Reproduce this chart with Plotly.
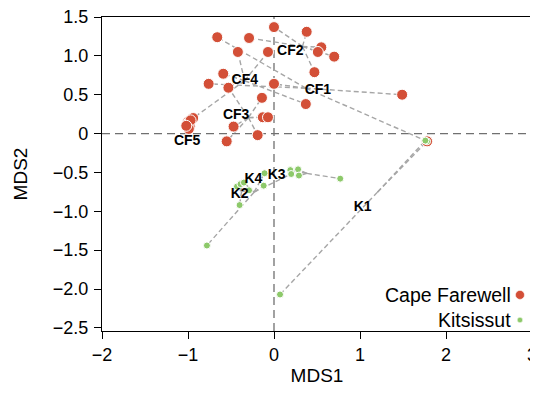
import plotly.graph_objects as go

# ---------------- data ----------------
cf_groups = ["CF1", "CF2", "CF3", "CF4", "CF5"]
cf_x = {
    "CF1": [-0.66, 1.49, 1.78, 0.00, -0.76],
    "CF2": [0.00, 0.38, 0.55, 0.51, 0.70, 0.47, -0.29],
    "CF3": [-0.53, -0.14, -0.13, -0.07, -0.47, -0.19, -0.55],
    "CF4": [-0.42, -0.07, -0.59, 0.37, -1.00],
    "CF5": [-0.94, -0.98, -1.01, -0.97, -0.99, -1.02],
}
cf_y = {
    "CF1": [1.24, 0.50, -0.10, 0.64, 0.64],
    "CF2": [1.37, 1.31, 1.11, 1.05, 0.99, 0.79, 1.23],
    "CF3": [0.59, 0.46, 0.21, 0.21, 0.09, -0.02, -0.10],
    "CF4": [1.05, 1.05, 0.77, 0.38, 0.15],
    "CF5": [0.20, 0.09, 0.12, 0.17, 0.06, 0.10],
}
cf_label_x = [0.51, 0.19, -0.44, -0.34, -1.01]
cf_label_y = [0.55, 1.05, 0.23, 0.68, -0.10]

k_groups = ["K1", "K2", "K3", "K4"]
k_x = {
    "K1": [1.78, 1.76, 0.07],
    "K2": [-0.40, -0.43, -0.39, -0.29],
    "K3": [0.19, 0.28, 0.29, 0.77],
    "K4": [-0.78, -0.35, -0.11, -0.12, 0.20],
}
k_y = {
    "K1": [-0.10, -0.09, -2.07],
    "K2": [-0.92, -0.68, -0.65, -0.73],
    "K3": [-0.47, -0.46, -0.54, -0.58],
    "K4": [-1.44, -0.63, -0.51, -0.67, -0.52],
}
k_label_x = [1.03, -0.40, 0.03, -0.24]
k_label_y = [-0.945, -0.78, -0.54, -0.585]

x_ticks = [-2, -1, 0, 1, 2, 3]
x_ticktext = ["\u22122", "\u22121", "0", "1", "2", "3"]
y_ticks = [1.5, 1.0, 0.5, 0, -0.5, -1.0, -1.5, -2.0, -2.5]
y_ticktext = ["1.5", "1.0", "0.5", "0", "\u22120.5", "\u22121.0", "\u22121.5", "\u22122.0", "\u22122.5"]

series_names = ["Cape Farewell", "Kitsissut"]

RED = "#D34F37"
GREEN = "#8DC96A"
FONT = "Liberation Sans, Arial, Helvetica, sans-serif"

fig = go.Figure()


def spider(xs, ys):
    cx = sum(xs) / len(xs)
    cy = sum(ys) / len(ys)
    lx, ly = [], []
    for x, y in zip(xs, ys):
        lx += [cx, x, None]
        ly += [cy, y, None]
    return lx, ly


# spider lines
for groups, gx, gy in ((cf_groups, cf_x, cf_y), (k_groups, k_x, k_y)):
    for g in groups:
        lx, ly = spider(gx[g], gy[g])
        fig.add_trace(go.Scatter(x=lx, y=ly, mode="lines", hoverinfo="skip",
                                 line=dict(color="#A6A6A6", width=1.4, dash="5px,3px"),
                                 showlegend=False))

# points
all_cf_x = [v for g in cf_groups for v in cf_x[g]]
all_cf_y = [v for g in cf_groups for v in cf_y[g]]
all_k_x = [v for g in k_groups for v in k_x[g]]
all_k_y = [v for g in k_groups for v in k_y[g]]

fig.add_trace(go.Scatter(x=all_cf_x, y=all_cf_y, mode="markers", name=series_names[0],
                         marker=dict(color=RED, size=11, line=dict(color="white", width=1)),
                         showlegend=False))
fig.add_trace(go.Scatter(x=all_k_x, y=all_k_y, mode="markers", name=series_names[1],
                         marker=dict(color=GREEN, size=7, line=dict(color="white", width=1)),
                         showlegend=False))

# group labels
fig.add_trace(go.Scatter(x=cf_label_x + k_label_x, y=cf_label_y + k_label_y,
                         text=cf_groups + k_groups, mode="text", hoverinfo="skip",
                         textfont=dict(family=FONT, size=14, color="black", weight="bold"),
                         showlegend=False))

# zero reference lines
fig.add_shape(type="line", xref="x", yref="paper", x0=0, x1=0, y0=0, y1=1,
              line=dict(color="#707070", width=1.3, dash="8px,5px"), layer="below")
fig.add_shape(type="line", xref="paper", yref="y", x0=0, x1=1, y0=0, y1=0,
              line=dict(color="#707070", width=1.3, dash="8px,5px"), layer="below")

# custom legend (marker on the right of text)
leg_y = [0.115, 0.035]
leg_colors = [RED, GREEN]
leg_sizes = [9, 5.5]
for name, yy, col, sz in zip(series_names, leg_y, leg_colors, leg_sizes):
    fig.add_annotation(xref="paper", yref="paper", x=0.956, y=yy, text=name,
                       xanchor="right", yanchor="middle", showarrow=False,
                       font=dict(family=FONT, size=19.5, color="black"))
    fig.add_shape(type="circle", xref="paper", yref="paper",
                  xsizemode="pixel", ysizemode="pixel", xanchor=0.972, yanchor=yy,
                  x0=-sz / 2, x1=sz / 2, y0=-sz / 2, y1=sz / 2,
                  fillcolor=col, line=dict(color="white", width=0.5))

axis_common = dict(showline=True, linecolor="black", linewidth=1.4, mirror=True,
                   ticks="outside", ticklen=7, tickwidth=1.4, tickcolor="black",
                   showgrid=False, zeroline=False, automargin=False,
                   ticklabeloverflow="allow",
                   tickfont=dict(family=FONT, size=18, color="black"))

fig.update_xaxes(range=[-2, 3], tickvals=x_ticks, ticktext=x_ticktext,
                 title=dict(text="MDS1", font=dict(family=FONT, size=19, color="black"), standoff=8),
                 **axis_common)
fig.update_yaxes(range=[-2.54, 1.5], tickvals=y_ticks, ticktext=y_ticktext,
                 ticklabelstandoff=2,
                 title=dict(text="MDS2", font=dict(family=FONT, size=19, color="black"), standoff=20),
                 **axis_common)

# page body has an 8px margin: size the figure so the plot lands where the reference has it
fig.update_layout(width=538, height=378,
                  margin=dict(l=94, r=14, t=9, b=55, autoexpand=False),
                  plot_bgcolor="white", paper_bgcolor="white", showlegend=False,
                  font=dict(family=FONT))

fig.write_html("out.html")
